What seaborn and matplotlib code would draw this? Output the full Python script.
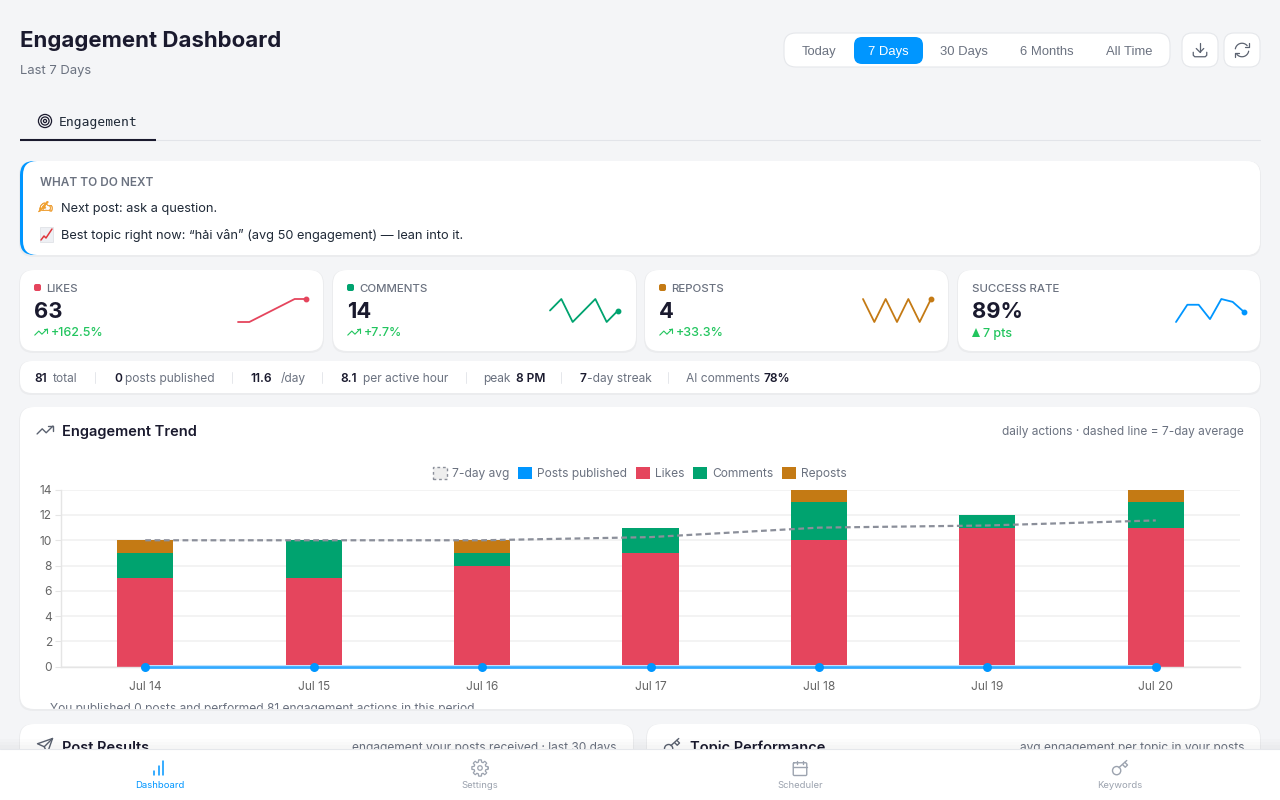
import numpy as np
import pandas as pd
import matplotlib
matplotlib.use('Agg')
import matplotlib.pyplot as plt
import matplotlib.patheffects as pe
import seaborn as sns
from matplotlib.patches import FancyBboxPatch, Circle, Rectangle, Patch, Polygon
from matplotlib.transforms import Bbox, TransformedBbox

# chart data
days = ['Jul 14', 'Jul 15', 'Jul 16', 'Jul 17', 'Jul 18', 'Jul 19', 'Jul 20']
likes = [7, 7, 8, 9, 10, 11, 11]
comments = [2, 3, 1, 2, 3, 1, 2]
reposts = [1, 0, 1, 0, 1, 0, 1]
posts = [0, 0, 0, 0, 0, 0, 0]
avg_7d = [10, 10, 10, 10.25, 11, 11.17, 11.57]
success = [85, 91, 91, 86, 93, 92, 88.5]

ranges = ['Today', '7 Days', '30 Days', '6 Months', 'All Time']
range_x = [819, 888, 964, 1047, 1129]

kpi_labels = ['LIKES', 'COMMENTS', 'REPOSTS', 'SUCCESS RATE']
kpi_values = ['63', '14', '4', '89%']
kpi_deltas = ['+162.5%', '+7.7%', '+33.3%', '7 pts']
kpi_left = [20, 333, 645, 958]
kpi_right = [323, 636, 948, 1260]
spark_left = [238, 550, 863, 1176]

# stats strip: (x, text, is_bold)
stats = [
    (34, '81', True), (53, 'total', False),
    (114, '0', True), (125, 'posts published', False),
    (250, '11.6', True), (281, '/day', False),
    (340, '8.1', True), (363, 'per active hour', False),
    (483, 'peak', False), (516, '8 PM', True),
    (579, '7', True), (587, '-day streak', False),
    (686, 'AI comments', False), (764, '78%', True),
]
stat_seps = [95, 232, 322, 466, 561, 668]

nav_labels = ['Dashboard', 'Settings', 'Scheduler', 'Keywords']
nav_x = [160, 480, 800, 1120]

RED = '#e5455d'
GREEN = '#00a36f'
AMBER = '#c47a14'
BLUE = '#0096ff'
INK = '#1a1a2e'
GRAY = '#6b7280'
LIGHT = '#9ca3af'
UP = '#22c55e'
BG = '#f4f5f7'
ICON = '#5b6270'
spark_colors = [RED, GREEN, AMBER, BLUE]


def pt(px):
    return px * 0.72


sns.set_theme(style='white')
plt.rcParams['font.family'] = ['Inter', 'DejaVu Sans']

fig = plt.figure(figsize=(12.8, 8), dpi=100, facecolor=BG)
ui = fig.add_axes([0, 0, 1, 1], zorder=0)
ui.set_xlim(0, 1280)
ui.set_ylim(800, 0)
ui.axis('off')


def card(ax, x0, y0, x1, y1, r=14, fc='white', ec='none', shadow=True, z=1):
    if shadow:
        ax.add_patch(FancyBboxPatch((x0 - 1, y0), x1 - x0 + 2, y1 - y0 + 2,
                                    boxstyle=f'round,pad=0,rounding_size={r}',
                                    fc='#000000', ec='none', alpha=0.035, zorder=z))
    ax.add_patch(FancyBboxPatch((x0, y0), x1 - x0, y1 - y0,
                                boxstyle=f'round,pad=0,rounding_size={r}',
                                fc=fc, ec=ec, lw=0.8, zorder=z + 0.1))


def label(ax, x, y, s, size, color=GRAY, weight='normal', ha='left', family=None, z=5):
    # y is the visual middle of the caps, text sits on a common baseline
    kw = {'family': family} if family else {}
    return ax.text(x, y + 0.36 * size, s, fontsize=pt(size), color=color, fontweight=weight,
                   ha=ha, va='baseline', zorder=z, **kw)


def icon(ax, cx, cy, size, lines=(), circles=(), color=GRAY, lw=1.1, z=5):
    # icon geometry is on a 24 unit grid
    k = size / 24
    for pts in lines:
        pts = np.array(pts, dtype=float)
        ax.plot(cx + (pts[:, 0] - 12) * k, cy + (pts[:, 1] - 12) * k, color=color, lw=lw,
                solid_capstyle='round', solid_joinstyle='round', zorder=z)
    for (x, y, r) in circles:
        ax.add_patch(Circle((cx + (x - 12) * k, cy + (y - 12) * k), r * k, fc='none',
                            ec=color, lw=lw, zorder=z))


def arc(x, y, r, a0, a1):
    t = np.radians(np.linspace(a0, a1, 24))
    return np.column_stack([x + r * np.cos(t), y + r * np.sin(t)])


TREND = [[(2, 17), (8.5, 10.5), (13.5, 15.5), (22, 7)], [(16, 7), (22, 7), (22, 13)]]
t = np.radians(np.arange(0, 361, 5))
GEAR = [np.column_stack([12 + (9.5 + 1.4 * np.sign(np.cos(8 * t))) * np.cos(t),
                         12 + (9.5 + 1.4 * np.sign(np.cos(8 * t))) * np.sin(t)])]
CAL = [[(4, 5), (20, 5), (21, 6), (21, 21), (20, 22), (4, 22), (3, 21), (3, 6), (4, 5)],
       [(3, 10), (21, 10)], [(8, 2), (8, 7)], [(16, 2), (16, 7)]]
KEY = [[(10.5, 11.5), (21, 2)], [(15.5, 7.5), (19, 11), (22, 8), (18.5, 4.5)]]
SEND = [[(22, 2), (15, 22), (11, 13), (2, 9), (22, 2)], [(22, 2), (11, 13)]]
DOWNLOAD = [[(12, 3), (12, 15)], [(7, 10), (12, 15), (17, 10)],
            [(3, 15), (3, 19), (5, 21), (19, 21), (21, 19), (21, 15)]]
REFRESH = [arc(12, 12, 9, 190, 320), [(21, 3), (21, 8), (16, 8)],
           arc(12, 12, 9, 10, 140), [(3, 21), (3, 16), (8, 16)]]

# header
label(ui, 20, 39.5, 'Engagement Dashboard', 22.2, INK, 'bold')
label(ui, 20, 69.5, 'Last 7 Days', 13, GRAY)

card(ui, 784, 33, 1170, 67, r=12, ec='#e5e7eb', shadow=False)
card(ui, 854, 37, 923, 64, r=8, fc=BLUE, shadow=False, z=2)
for name, x in zip(ranges, range_x):
    label(ui, x, 50.5, name, 13, 'white' if name == '7 Days' else GRAY, ha='center',
          family='Liberation Sans')
card(ui, 1182, 33, 1218, 67, r=10, ec='#e5e7eb', shadow=False)
card(ui, 1224, 33, 1260, 67, r=10, ec='#e5e7eb', shadow=False)
icon(ui, 1200, 50, 18, DOWNLOAD, color=ICON, lw=0.9)
icon(ui, 1242, 50, 18, REFRESH, color=ICON, lw=0.9)

# tab strip
icon(ui, 45, 121, 15, circles=[(12, 12, 10.5), (12, 12, 6.5), (12, 12, 2.5)], color=INK, lw=0.9)
label(ui, 59, 121.5, 'Engagement', 13, '#1f2937', family='DejaVu Sans Mono')
ui.plot([20, 1260], [140, 140], color='#e2e4e9', lw=0.8, zorder=1)
ui.plot([20, 156], [140, 140], color=INK, lw=1.5, solid_capstyle='butt', zorder=2)

# what to do next, blue accent only shows on the left edge
card(ui, 20, 161, 1260, 255, r=14)
card(ui, 20, 161, 60, 255, r=14, fc=BLUE, shadow=False, z=2)
card(ui, 23, 161, 1260, 255, r=14, shadow=False, z=3)
label(ui, 40, 181.5, 'WHAT TO DO NEXT', 11.8, GRAY, '600')
pen = label(ui, 38, 207, '\u270d', 18, '#f2a22e', family='DejaVu Sans')
pen.set_path_effects([pe.withStroke(linewidth=0.3, foreground='#e8932a')])
label(ui, 61, 207.5, 'Next post: ask a question.', 12.8, '#1f2937')
ui.add_patch(Rectangle((40, 227), 13, 15, fc='#eef0f4', ec='#d5d8de', lw=0.4, zorder=5))
ui.plot([41, 44, 46, 52], [240, 236, 238, 229], color='#e0353b', lw=1.1, zorder=6)
label(ui, 61, 234.5, 'Best topic right now: \u201ch\u1ea3i v\u00e2n\u201d (avg 50 engagement) \u2014 lean into it.',
      12.8, '#1f2937')

# KPI cards
spark_series = [likes, comments, reposts, success]
for i, name in enumerate(kpi_labels):
    x0 = kpi_left[i]
    card(ui, x0, 270, kpi_right[i], 351)
    if i < 3:
        ui.add_patch(FancyBboxPatch((x0 + 14, 284), 7, 7, boxstyle='round,pad=0,rounding_size=2',
                                    fc=spark_colors[i], ec='none', zorder=5))
        label(ui, x0 + 26, 287.5, name, 11.5, GRAY, '500')
    else:
        label(ui, x0 + 14, 287.5, name, 11.5, GRAY, '500')
    label(ui, x0 + 14, 310, kpi_values[i], 22, INK, 'bold')
    if i < 3:
        icon(ui, x0 + 21, 332, 15, TREND, color=UP, lw=0.8)
        label(ui, x0 + 31, 332, kpi_deltas[i], 12.5, UP, '500')
    else:
        ui.add_patch(Polygon([(x0 + 14, 337), (x0 + 22, 337), (x0 + 18, 328)], fc=UP, ec='none', zorder=5))
        label(ui, x0 + 25, 332, kpi_deltas[i], 12.5, UP, '500')

    vals = spark_series[i]
    left = spark_left[i]
    sp = fig.add_axes([left / 1280, 1 - 322 / 800, 68 / 1280, 23 / 800], zorder=2)
    sp.patch.set_alpha(0)
    sns.lineplot(x=np.arange(len(vals)), y=vals, color=spark_colors[i], lw=1.3, ax=sp)
    sp.plot([len(vals) - 1], [vals[-1]], 'o', color=spark_colors[i], ms=3.2, clip_on=False)
    sp.set_xlim(0, len(vals) - 1)
    sp.set_ylim(min(vals), max(vals))
    sp.axis('off')
    for ln in sp.lines:
        ln.set_clip_on(False)

# stats strip
card(ui, 20, 361, 1260, 393, r=12)
for x, s, strong in stats:
    label(ui, x, 377.5, s, 12, INK if strong else GRAY, '600' if strong else 'normal')
for x in stat_seps:
    ui.plot([x, x], [372, 383], color='#e5e7eb', lw=0.7, zorder=5)

# trend card
card(ui, 20, 407, 1260, 709)
icon(ui, 45, 430, 19, TREND, color=ICON, lw=1.0)
label(ui, 62, 431, 'Engagement Trend', 14.6, INK, '600')
label(ui, 1244, 431, 'daily actions \u00b7 dashed line = 7-day average', 11.9, GRAY, ha='right')
note = label(ui, 50, 708, 'You published 0 posts and performed 81 engagement actions in this period.', 12, GRAY)
note.set_clip_box(TransformedBbox(Bbox([[20, 690], [1260, 709]]), ui.transData))
note.set_clip_on(True)

# lower cards, cut off by the nav bar
card(ui, 20, 724, 633, 830)
card(ui, 647, 724, 1260, 830)
icon(ui, 45, 746, 18, SEND, color=ICON, lw=1.0)
label(ui, 62, 747, 'Post Results', 14.6, INK, '600')
label(ui, 617, 746.5, 'engagement your posts received \u00b7 last 30 days', 11.9, GRAY, ha='right')
icon(ui, 672, 746, 18, KEY, circles=[(7.5, 15.5, 5.5)], color=ICON, lw=1.0)
label(ui, 690, 747, 'Topic Performance', 14.6, INK, '600')
label(ui, 1244, 746.5, 'avg engagement per topic in your posts', 11.9, GRAY, ha='right')

# main chart
ax = fig.add_axes([61 / 1280, 1 - 666.7 / 800, 1179 / 1280, 177 / 800], zorder=2)
ax.patch.set_alpha(0)
likes_arr = np.array(likes)
comments_arr = np.array(comments)
df = pd.DataFrame({'day': days, 'likes': likes, 'comments': comments, 'reposts': reposts,
                   'posts': posts, 'avg': avg_7d})
sns.barplot(data=df, x='day', y='likes', color=RED, saturation=1, width=0.333, ax=ax,
            edgecolor='none', zorder=2)
sns.barplot(data=df, x='day', y='comments', color=GREEN, saturation=1, width=0.333, ax=ax,
            bottom=likes_arr, edgecolor='none', zorder=2)
sns.barplot(data=df, x='day', y='reposts', color=AMBER, saturation=1, width=0.333, ax=ax,
            bottom=likes_arr + comments_arr, edgecolor='none', zorder=2)
sns.lineplot(data=df, x='day', y='avg', color='#8b8f9a', lw=1.6, ax=ax, zorder=3,
             linestyle=(0, (2.6, 1.6)))
sns.lineplot(data=df, x='day', y='posts', color='#bfe3ff', lw=2.9, ax=ax, zorder=3)
sns.lineplot(data=df, x='day', y='posts', color='#33aaff', lw=1.9, ax=ax, zorder=4)
sns.scatterplot(data=df, x='day', y='posts', color=BLUE, s=42, linewidth=0, ax=ax, zorder=5,
                clip_on=False)
for ln in ax.lines:
    ln.set_clip_on(False)

ax.set_xlim(-0.5, 6.5)
ax.set_ylim(0, 14)
ax.set_yticks(range(0, 15, 2))
ax.set_xlabel('')
ax.set_ylabel('')
ax.grid(axis='y', color='#f0f0f0', lw=1.1)
ax.set_axisbelow(True)
sns.despine(ax=ax, top=True, right=True)
for side in ['left', 'bottom']:
    ax.spines[side].set_color('#e5e5e5')
    ax.spines[side].set_linewidth(1.0)
ax.tick_params(axis='y', length=4.5, width=0.8, color='#e5e5e5', labelcolor='#666666',
               labelsize=pt(12), pad=2, left=True)
ax.tick_params(axis='x', length=0, labelcolor='#666666', labelsize=pt(12), pad=10)

handles = [
    Patch(fc='#eeeeee', ec='#8b8f9a', ls=(0, (2, 2)), lw=1, label='7-day avg'),
    Patch(fc=BLUE, ec='none', label='Posts published'),
    Patch(fc=RED, ec='none', label='Likes'),
    Patch(fc=GREEN, ec='none', label='Comments'),
    Patch(fc=AMBER, ec='none', label='Reposts'),
]
ax.legend(handles=handles, ncols=5, loc='center', bbox_to_anchor=(640 / 1280, 1 - 473.5 / 800),
          bbox_transform=fig.transFigure, frameon=False, fontsize=pt(12), labelcolor=GRAY,
          handlelength=1.15, handleheight=1.15, handletextpad=0.42, columnspacing=0.75, borderpad=0)

# nav bar sits on top of everything
nav = fig.add_axes([0, 0, 1, 1], zorder=5)
nav.set_xlim(0, 1280)
nav.set_ylim(800, 0)
nav.axis('off')
nav.patch.set_alpha(0)
for h in [10, 7, 4]:
    nav.add_patch(Rectangle((0, 749 - h), 1280, h, fc='#000000', ec='none', alpha=0.012, zorder=1))
nav.add_patch(Rectangle((0, 749), 1280, 51, fc='white', ec='none', zorder=2))
nav.plot([0, 1280], [749, 749], color='#e5e7eb', lw=0.8, zorder=3)
for name, x in zip(nav_labels, nav_x):
    c = BLUE if name == 'Dashboard' else LIGHT
    label(nav, x, 785, name, 9.5, c, ha='center')
icon(nav, 160, 768, 18, [[(4, 21), (4, 16)], [(10, 21), (10, 9)], [(16, 21), (16, 3)]], color=BLUE, lw=1.1)
icon(nav, 480, 768, 18, GEAR, circles=[(12, 12, 3)], color=LIGHT, lw=0.9)
icon(nav, 800, 768, 18, CAL, color=LIGHT, lw=1.0)
icon(nav, 1120, 768, 18, KEY, circles=[(7.5, 15.5, 5.5)], color=LIGHT, lw=1.0)

fig.savefig('out.png', dpi=100, facecolor=BG)
